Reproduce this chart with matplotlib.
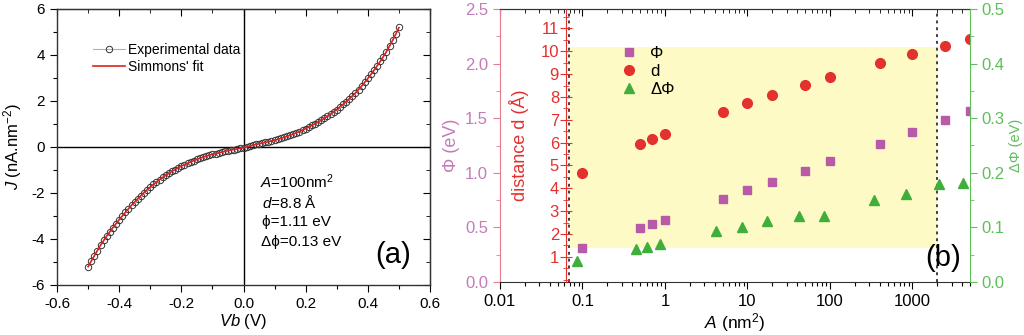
import matplotlib
matplotlib.use("Agg")
import matplotlib.pyplot as plt
from matplotlib.lines import Line2D
from matplotlib.ticker import MultipleLocator, LogLocator, NullFormatter, FixedLocator

plt.rcParams['font.family'] = ['Liberation Sans', 'DejaVu Sans']
plt.rcParams['mathtext.fontset'] = 'custom'
plt.rcParams['mathtext.rm'] = 'Liberation Sans'
plt.rcParams['mathtext.it'] = 'Liberation Sans:italic'
plt.rcParams['axes.unicode_minus'] = False

# ---------------- data: panel (a) ----------------
exp_V = [round(-0.5 + 0.01 * i, 2) for i in range(101)]
exp_J = [-5.22, -4.97, -4.74, -4.51, -4.28, -4.06, -3.87, -3.69, -3.50, -3.33,
         -3.16, -3.00, -2.84, -2.68, -2.53, -2.39, -2.25, -2.11, -1.98, -1.86,
         -1.74, -1.63, -1.52, -1.42, -1.32, -1.23, -1.14, -1.06, -0.98, -0.90,
         -0.83, -0.77, -0.71, -0.65, -0.59, -0.54, -0.49, -0.45, -0.40, -0.36,
         -0.32, -0.29, -0.26, -0.22, -0.19, -0.16, -0.13, -0.11, -0.08, -0.06,
         -0.03, 0.00, 0.04, 0.08, 0.11, 0.15, 0.17, 0.20, 0.23, 0.26,
         0.29, 0.33, 0.37, 0.42, 0.46, 0.51, 0.56, 0.62, 0.67, 0.73,
         0.80, 0.87, 0.94, 1.01, 1.08, 1.16, 1.25, 1.34, 1.43, 1.53,
         1.63, 1.74, 1.85, 1.97, 2.09, 2.21, 2.35, 2.50, 2.65, 2.81,
         2.98, 3.16, 3.34, 3.53, 3.72, 3.92, 4.15, 4.39, 4.64, 4.91, 5.20]
fit_V = [round(-0.5 + 0.02 * i, 2) for i in range(51)]
fit_J = [-5.20, -4.73, -4.27, -3.87, -3.50, -3.16, -2.84, -2.53, -2.25, -1.98,
         -1.74, -1.52, -1.32, -1.14, -0.98, -0.83, -0.71, -0.59, -0.49, -0.40,
         -0.32, -0.26, -0.19, -0.13, -0.08, -0.03, 0.04, 0.11, 0.17, 0.23,
         0.29, 0.37, 0.46, 0.56, 0.67, 0.80, 0.94, 1.08, 1.25, 1.43,
         1.63, 1.85, 2.09, 2.35, 2.65, 2.98, 3.34, 3.72, 4.15, 4.64, 5.19]

# ---------------- data: panel (b) ----------------
phi_A = [0.1, 0.5, 0.7, 1, 5, 10, 20, 50, 100, 400, 1000, 2500, 5000]
phi_eV = [0.31, 0.49, 0.53, 0.57, 0.76, 0.84, 0.92, 1.02, 1.11, 1.26, 1.37, 1.48, 1.57]
d_A = [0.1, 0.5, 0.7, 1, 5, 10, 20, 50, 100, 400, 1000, 2500, 5000]
d_ang = [4.68, 5.93, 6.16, 6.40, 7.35, 7.74, 8.10, 8.54, 8.87, 9.49, 9.88, 10.25, 10.53]
dphi_A = [0.086, 0.44, 0.60, 0.86, 4.2, 8.6, 17.3, 42.4, 86, 343, 841, 2130, 4110]
dphi_eV = [0.038, 0.060, 0.065, 0.070, 0.093, 0.101, 0.111, 0.121, 0.120, 0.150, 0.161, 0.179, 0.182]
band_A = [0.07, 2000]
band_phi = [0.31, 2.155]
limit_A = [0.068, 2000]

C_PHI = '#b85aa8'
C_PHI_AX = '#c47cb8'
C_PHI_SP = '#e67c8c'
C_D = '#e3312e'
C_DP = '#3fae3a'
C_DP_AX = '#5fbf5a'

fig = plt.figure(figsize=(10.24, 3.35), dpi=100)

# ================= panel (a) =================
axa = fig.add_axes([57 / 1024, 50 / 335, 373 / 1024, 276 / 335])
axa.axhline(0, color='black', lw=1.0, zorder=1)
axa.axvline(0, color='black', lw=1.0, zorder=1)
axa.plot(exp_V, exp_J, color='#a0a0a0', lw=0.6, marker='o', ms=4.6, mfc='none',
         mec='#333333', mew=0.7, zorder=2)
axa.plot(fit_V, fit_J, color='#e02020', lw=1.2, zorder=3)
axa.set_xlim(-0.6, 0.6)
axa.set_ylim(-6, 6)
axa.xaxis.set_major_locator(MultipleLocator(0.2))
axa.xaxis.set_minor_locator(MultipleLocator(0.1))
axa.yaxis.set_major_locator(MultipleLocator(2))
axa.yaxis.set_minor_locator(MultipleLocator(1))
axa.xaxis.set_major_formatter(matplotlib.ticker.FuncFormatter(
    lambda v, p: f'{v:.1f}' if abs(v) > 1e-9 else '0.0'))
axa.tick_params(which='major', direction='out', length=5, width=0.8, labelsize=11)
axa.tick_params(which='minor', direction='out', length=3, width=0.8)
for s in axa.spines.values():
    s.set_linewidth(1.0)
    s.set_color('#333333')
sx = axa.secondary_xaxis('top')
sx.xaxis.set_major_locator(MultipleLocator(0.2))
sx.xaxis.set_minor_locator(MultipleLocator(0.1))
sx.tick_params(which='major', direction='in', length=5, labeltop=False)
sx.tick_params(which='minor', direction='in', length=3)
sy = axa.secondary_yaxis('right')
sy.yaxis.set_major_locator(MultipleLocator(2))
sy.yaxis.set_minor_locator(MultipleLocator(1))
sy.tick_params(which='major', direction='in', length=5, labelright=False)
sy.tick_params(which='minor', direction='in', length=3)
axa.set_xlabel(r'$\it{Vb}$ (V)', fontsize=12)
axa.xaxis.set_label_coords(0.5, -0.097)
axa.set_ylabel(r'$\it{J}$ (nA.nm$^{-2}$)', fontsize=12)
axa.yaxis.set_label_coords(-0.088, 0.5)

h1 = Line2D([], [], color='#b0b0b0', lw=0.8, marker='o', ms=4.6, mfc='none', mec='#333333', mew=0.7)
h2 = Line2D([], [], color='#e02020', lw=1.2)
axa.legend([h1, h2], ['Experimental data', "Simmons' fit"], loc='upper left',
           bbox_to_anchor=(86 / 1024, 1 - 36 / 335), bbox_transform=fig.transFigure,
           frameon=False, fontsize=10, handlelength=2.3, handletextpad=0.2,
           labelspacing=0.2, numpoints=1, borderpad=0)

ta = dict(transform=fig.transFigure, fontsize=11, va='center', ha='left')
fig.text(260 / 1024, 1 - 182 / 335, r'$\it{A}$=100nm$^{2}$', **ta)
fig.text(262 / 1024, 1 - 202 / 335, r'$\it{d}$=8.8 Å', **ta)
fig.text(262 / 1024, 1 - 222 / 335, 'ϕ=1.11 eV', **ta)
fig.text(261 / 1024, 1 - 242 / 335, 'Δϕ=0.13 eV', **ta)
fig.text(393 / 1024, 1 - 255 / 335, '(a)', transform=fig.transFigure, fontsize=21,
         ha='center', va='center')

# ================= panel (b) =================
rect = [500 / 1024, 53 / 335, 470 / 1024, 273 / 335]
ax = fig.add_axes(rect)
ax.set_xscale('log')
ax.set_xlim(0.01, 5000)
ax.set_ylim(0, 2.5)
ax.fill_between(band_A, [band_phi[0]] * 2, [band_phi[1]] * 2, color='#fefac6', lw=0, zorder=0)
for xv in limit_A:
    ax.axvline(xv, color='#404040', ls=(0, (1.5, 2.0)), lw=1.4, zorder=1)
ax.plot(phi_A, phi_eV, ls='none', marker='s', ms=6, color=C_PHI, zorder=3)
ax.yaxis.set_major_locator(MultipleLocator(0.5))
ax.yaxis.set_minor_locator(MultipleLocator(0.25))
ax.yaxis.set_major_formatter(matplotlib.ticker.FormatStrFormatter('%.1f'))
ax.xaxis.set_major_locator(LogLocator(base=10, numticks=20))
ax.xaxis.set_minor_locator(LogLocator(base=10, subs=range(2, 10), numticks=20))
ax.xaxis.set_minor_formatter(NullFormatter())
ax.xaxis.set_major_formatter(matplotlib.ticker.FuncFormatter(lambda v, p: f'{v:g}'))
ax.tick_params(axis='x', which='major', direction='out', length=5, labelsize=12, width=0.8)
ax.tick_params(axis='x', which='minor', direction='out', length=3, width=0.8)
ax.tick_params(axis='y', which='major', direction='out', length=5, labelsize=12,
               colors=C_PHI_SP, labelcolor=C_PHI_AX)
ax.tick_params(axis='y', which='minor', direction='out', length=3, colors=C_PHI_SP)
ax.spines['left'].set_color(C_PHI_SP)
ax.spines['right'].set_visible(False)
for k in ('top', 'bottom'):
    ax.spines[k].set_color('#333333')
ax.set_ylabel('Φ (eV)', color=C_PHI_AX, fontsize=13)
ax.yaxis.set_label_coords(-0.085, 0.5)
ax.set_xlabel(r'$\it{A}$ (nm$^{2}$)', fontsize=12.5)
ax.xaxis.set_label_coords(0.5, -0.105)
stx = ax.secondary_xaxis('top')
stx.xaxis.set_major_locator(LogLocator(base=10, numticks=20))
stx.xaxis.set_minor_locator(LogLocator(base=10, subs=range(2, 10), numticks=20))
stx.xaxis.set_minor_formatter(NullFormatter())
stx.tick_params(which='major', direction='in', length=5, labeltop=False)
stx.tick_params(which='minor', direction='in', length=3)
stx.spines['top'].set_color('#333333')

axd = ax.twinx()
axd.set_ylim(-0.1, 11.85)
axd.plot(d_A, d_ang, ls='none', marker='o', ms=7, color=C_D, zorder=3)
axd.yaxis.set_ticks_position('left')
axd.yaxis.set_label_position('left')
for k in ('right', 'top', 'bottom'):
    axd.spines[k].set_visible(False)
axd.spines['left'].set_visible(True)
axd.spines['left'].set_position(('axes', 66 / 470))
axd.spines['left'].set_color(C_D)
axd.yaxis.set_major_locator(FixedLocator(list(range(1, 12))))
axd.yaxis.set_minor_locator(MultipleLocator(0.5))
axd.tick_params(axis='y', which='major', direction='inout', length=8, labelsize=12,
                colors=C_D, left=True, right=False, labelleft=True, labelright=False, pad=1)
axd.tick_params(axis='y', which='minor', direction='inout', length=4, colors=C_D,
                left=True, right=False)
axd.set_ylabel('distance d (Å)', color=C_D, fontsize=13)
axd.yaxis.set_label_coords(0.062, 0.5)

axp = ax.twinx()
axp.set_ylim(0, 0.5)
axp.plot(dphi_A, dphi_eV, ls='none', marker='^', ms=7, color=C_DP, zorder=3)
for k in ('left', 'top', 'bottom'):
    axp.spines[k].set_visible(False)
axp.spines['right'].set_color(C_DP_AX)
axp.yaxis.set_major_locator(MultipleLocator(0.1))
axp.yaxis.set_minor_locator(MultipleLocator(0.05))
axp.yaxis.set_major_formatter(matplotlib.ticker.FormatStrFormatter('%.1f'))
axp.tick_params(axis='y', which='major', direction='out', length=5, labelsize=12,
                colors=C_DP_AX)
axp.tick_params(axis='y', which='minor', direction='out', length=3, colors=C_DP_AX)
axp.set_ylabel('ΔΦ (eV)', color=C_DP_AX, fontsize=10.5)
axp.yaxis.set_label_coords(1.084, 0.5)

hp = Line2D([], [], ls='none', marker='s', ms=6, color=C_PHI)
hd = Line2D([], [], ls='none', marker='o', ms=7, color=C_D)
ht = Line2D([], [], ls='none', marker='^', ms=7, color=C_DP)
axp.legend([hp, hd, ht], ['Φ', 'd', 'ΔΦ'], loc='upper left',
           bbox_to_anchor=(612 / 1024, 1 - 38 / 335), bbox_transform=fig.transFigure,
           frameon=False, fontsize=12, handlelength=1.0, handletextpad=0.8,
           labelspacing=0.18, borderpad=0, numpoints=1)

fig.text(943 / 1024, 1 - 258 / 335, '(b)', transform=fig.transFigure, fontsize=21,
         ha='center', va='center')

fig.savefig('out.png', dpi=100)
